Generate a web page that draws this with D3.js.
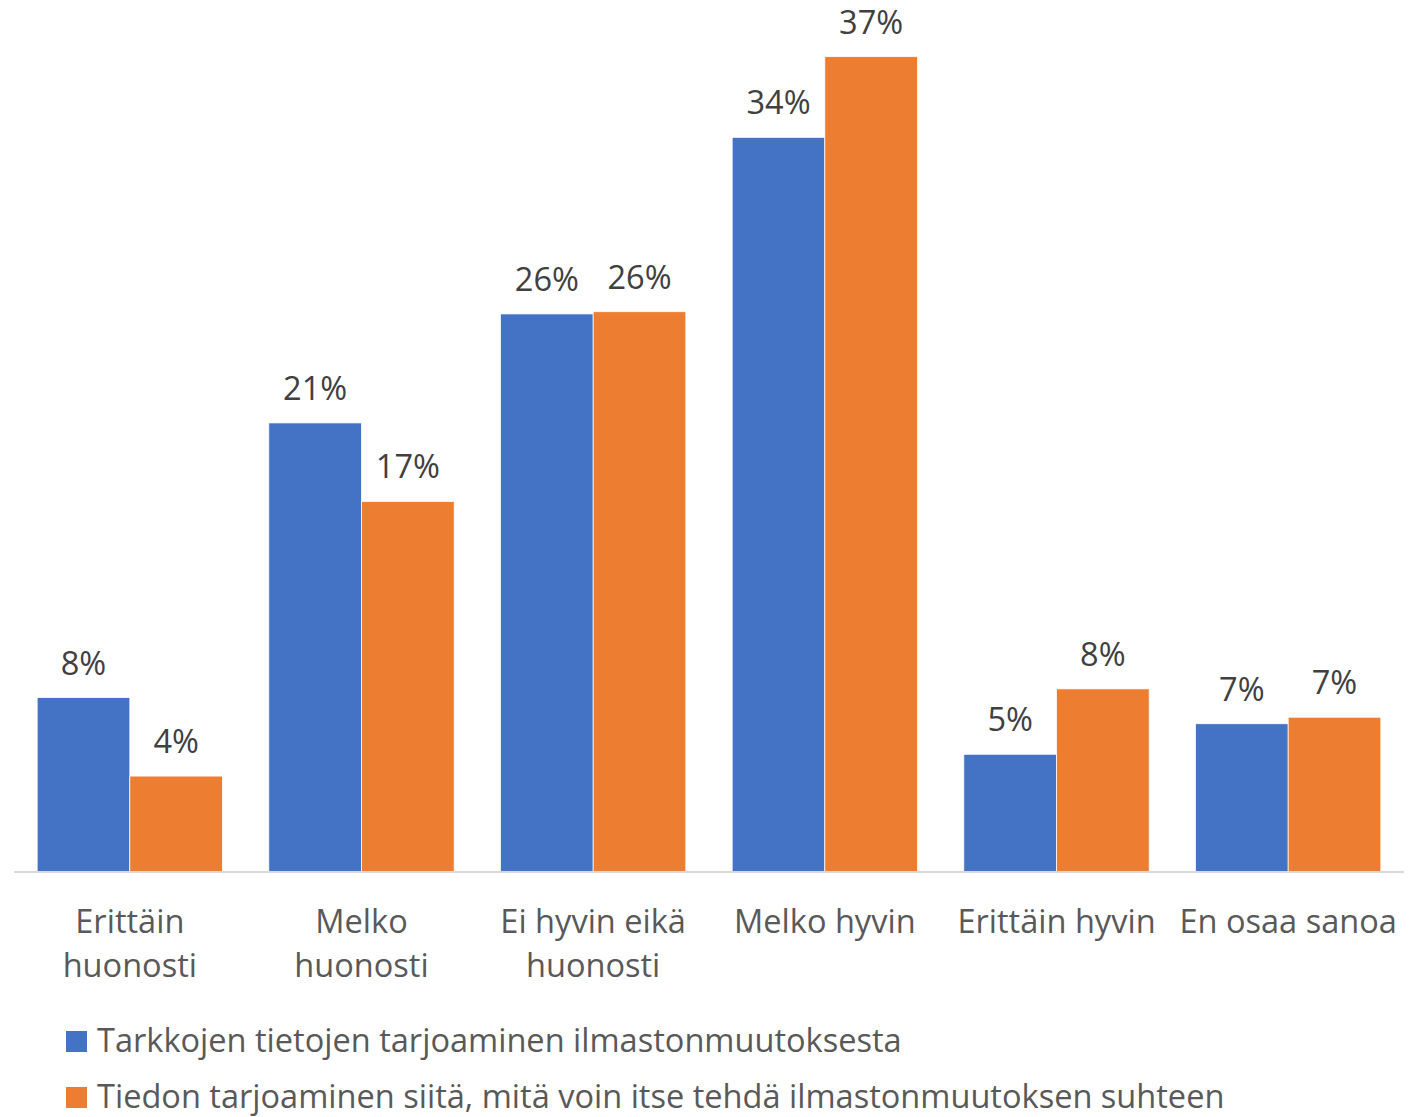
<!DOCTYPE html>
<html>
<head>
<meta charset="utf-8">
<script src="https://cdn.jsdelivr.net/npm/d3@7"></script>
<style>
  html, body { margin: 0; padding: 0; background: #fff; }
  svg { display: block; }
  text { font-family: "Open Sans", Lato, sans-serif; font-variant-ligatures: none; }
</style>
</head>
<body>
<svg id="chart" width="1420" height="1117"></svg>
<script>
const categories = [
  ["Erittäin", "huonosti"],
  ["Melko", "huonosti"],
  ["Ei hyvin eikä", "huonosti"],
  ["Melko hyvin"],
  ["Erittäin hyvin"],
  ["En osaa sanoa"]
];
const seriesNames = [
  "Tarkkojen tietojen tarjoaminen ilmastonmuutoksesta",
  "Tiedon tarjoaminen siitä, mitä voin itse tehdä ilmastonmuutoksen suhteen"
];
const seriesA = [8.0, 20.6, 25.6, 33.7, 5.4, 6.8];
const seriesB = [4.4, 17.0, 25.7, 37.4, 8.4, 7.1];
const labelsA = ["8%", "21%", "26%", "34%", "5%", "7%"];
const labelsB = ["4%", "17%", "26%", "37%", "8%", "7%"];
const colors = ["#4472C4", "#ED7D31"];
const yMax = 40;

const svg = d3.select("#chart");

// fit font size so the long legend entry spans like the reference
const probe = svg.append("text").attr("font-size", 30).text(seriesNames[1]);
const probeLen = probe.node().getComputedTextLength();
probe.remove();
const fontSize = Math.max(26, Math.min(34, 30 * 1128 / probeLen));

const x = d3.scaleBand()
  .domain(d3.range(categories.length))
  .range([14, 1404])
  .paddingInner(0.2)
  .paddingOuter(0.1);
const xs = d3.scaleBand().domain([0, 1]).range([0, x.bandwidth()]);
const y = d3.scaleLinear().domain([0, yMax]).range([872, 0]);

const series = [
  { values: seriesA, labels: labelsA, color: colors[0] },
  { values: seriesB, labels: labelsB, color: colors[1] }
];

// bars
series.forEach((s, si) => {
  const g = svg.append("g");
  g.selectAll("rect").data(s.values).join("rect")
    .attr("x", (d, i) => x(i) + xs(si))
    .attr("y", d => y(d))
    .attr("width", xs.bandwidth())
    .attr("height", d => y(0) - y(d))
    .attr("fill", s.color)
    .attr("stroke", "#ffffff")
    .attr("stroke-width", 0.75);
  g.selectAll("text").data(s.labels).join("text")
    .attr("x", (d, i) => x(i) + xs(si) + xs.bandwidth() / 2)
    .attr("y", (d, i) => y(s.values[i]) - 23)
    .attr("text-anchor", "middle")
    .attr("font-size", fontSize)
    .attr("fill", "#404040")
    .text(d => d);
});

// axis
const axis = d3.axisBottom(x).tickSize(0).tickFormat("");
const ax = svg.append("g").attr("transform", `translate(0,${y(0)})`).call(axis);
ax.select(".domain").attr("stroke", "#d9d9d9").attr("stroke-width", 2)
  .attr("d", `M14,0H1404`);

// category labels
const catG = svg.append("g");
categories.forEach((lines, i) => {
  const t = catG.append("text")
    .attr("text-anchor", "middle")
    .attr("font-size", fontSize)
    .attr("fill", "#595959");
  lines.forEach((ln, li) => {
    t.append("tspan")
      .attr("x", x(i) + x.bandwidth() / 2)
      .attr("y", 933 + li * 44)
      .text(ln);
  });
});

// legend
const leg = svg.append("g");
seriesNames.forEach((name, i) => {
  const yy = 1031 + i * 56;
  leg.append("rect").attr("x", 66).attr("y", yy).attr("width", 21).attr("height", 21)
    .attr("fill", colors[i]);
  leg.append("text").attr("x", 97).attr("y", yy + 21)
    .attr("font-size", fontSize)
    .attr("fill", "#595959")
    .text(name);
});
</script>
</body>
</html>
